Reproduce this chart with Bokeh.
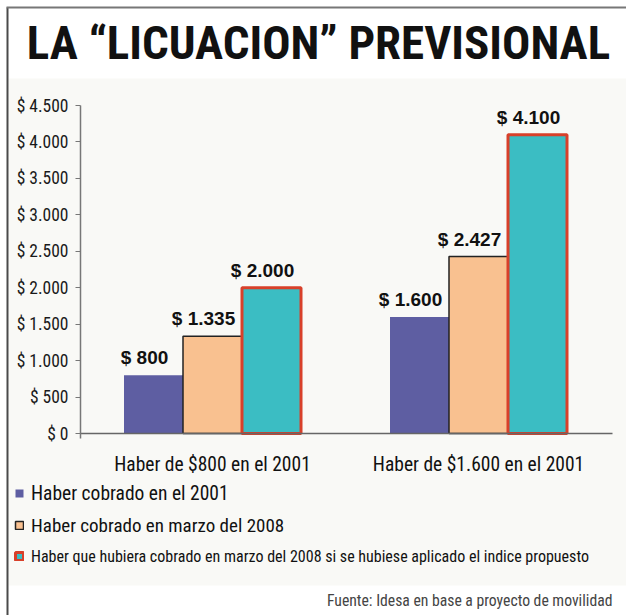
from bokeh.plotting import figure
from bokeh.models import (ColumnDataSource, FixedTicker, Label, Legend,
                          LegendItem, BoxAnnotation, Range1d)
from bokeh.transform import dodge
from bokeh.core.properties import value
from bokeh.embed import file_html
from bokeh.resources import INLINE

# ---- data ----
groups = ["Haber de $800 en el 2001", "Haber de $1.600 en el 2001"]
series_names = [
    "Haber cobrado en el 2001",
    "Haber cobrado en marzo del 2008",
    "Haber que hubiera cobrado en marzo del 2008 si se hubiese aplicado el indice propuesto",
]
cobrado_2001 = [800, 1600]
cobrado_2008 = [1335, 2427]
hubiera_2008 = [2000, 4100]
value_labels_2001 = ["$ 800", "$ 1.600"]
value_labels_2008 = ["$ 1.335", "$ 2.427"]
value_labels_hub = ["$ 2.000", "$ 4.100"]
y_ticks = [0, 500, 1000, 1500, 2000, 2500, 3000, 3500, 4000, 4500]
y_tick_labels = ["$ 0", "$ 500", "$ 1.000", "$ 1.500", "$ 2.000", "$ 2.500",
                 "$ 3.000", "$ 3.500", "$ 4.000", "$ 4.500"]
title_text = "LA \u201cLICUACION\u201d PREVISIONAL"
source_text = "Fuente: Idesa en base a proyecto de movilidad"

group_pos = list(range(len(groups)))
src = ColumnDataSource(dict(
    g=group_pos, a=cobrado_2001, b=cobrado_2008, c=hubiera_2008,
    la=value_labels_2001, lb=value_labels_2008, lc=value_labels_hub,
))

NARROW = "'Roboto Condensed', 'Liberation Sans Narrow', 'Liberation Sans'"
W, H = 626, 615

# ---- layout (pixel targets -> ranges) ----
PX_X0, PX_PER_GROUP = 212.0, 266.0      # pixel of first group, pixels per group
PX_Y0, PX_YTOP, Y_TOP = 433.0, 105.0, 4500.0
ppy = (PX_Y0 - PX_YTOP) / Y_TOP
x_start = -PX_X0 / PX_PER_GROUP
x_end = (W - PX_X0) / PX_PER_GROUP
y_start = -(H - PX_Y0) / ppy
y_end = Y_TOP + PX_YTOP / ppy
axis_x = (80 - PX_X0) / PX_PER_GROUP
axis_right = (612 - PX_X0) / PX_PER_GROUP

p = figure(width=W, height=H, x_range=Range1d(x_start, x_end),
           y_range=Range1d(y_start, y_end), output_backend="svg",
           toolbar_location=None, min_border=0, title=None)
p.outline_line_color = None
p.background_fill_color = "white"
p.border_fill_color = "white"

# light panel behind the chart
p.add_layout(BoxAnnotation(left=8, right=W, top=H - 78, bottom=H - 585,
                           left_units="screen", right_units="screen",
                           top_units="screen", bottom_units="screen",
                           fill_color="#f9f9f6", fill_alpha=1, line_color=None,
                           level="underlay"))
# frame border lines (left and top)
p.add_layout(BoxAnnotation(left=6, right=8, top=H - 7, bottom=0,
                           left_units="screen", right_units="screen",
                           top_units="screen", bottom_units="screen",
                           fill_color="#4a4a4a", fill_alpha=1, line_color=None))
p.add_layout(BoxAnnotation(left=6, right=W, top=H - 6, bottom=H - 8,
                           left_units="screen", right_units="screen",
                           top_units="screen", bottom_units="screen",
                           fill_color="#777777", fill_alpha=1, line_color=None))

bw = 59.0 / PX_PER_GROUP
colors = ["#5e5ea2", "#f9c190", "#3bbdc3"]
r1 = p.vbar(x=dodge("g", -bw), top="a", width=bw, source=src,
            fill_color=colors[0], line_color=None)
r2 = p.vbar(x=dodge("g", 0), top="b", width=bw, source=src,
            fill_color=colors[1], line_color="#222222", line_width=1.5)
r3 = p.vbar(x=dodge("g", bw), top="c", width=bw, source=src,
            fill_color=colors[2], line_color="#d8402a", line_width=3)

for col, lab, off in [("a", "la", -bw), ("b", "lb", 0), ("c", "lc", bw)]:
    p.text(x=dodge("g", off), y=col, text=lab, source=src,
           text_font=value("Liberation Sans"), text_font_style="bold",
           text_font_size="19px", text_color="#111111", text_align="center",
           text_baseline="bottom", y_offset=-7, x_offset=-9)

# axes (fixed inside the frame)
p.yaxis.fixed_location = axis_x
p.yaxis.bounds = (-70, Y_TOP)
p.yaxis.ticker = FixedTicker(ticks=y_ticks)
p.yaxis.major_label_overrides = {t: l for t, l in zip(y_ticks, y_tick_labels)}
p.yaxis.major_label_text_font = NARROW
p.yaxis.major_label_text_font_size = "17.5px"
p.yaxis.major_label_text_color = "#1a1a1a"
p.yaxis.axis_line_color = "#777777"
p.yaxis.axis_line_width = 1.5
p.yaxis.major_tick_line_color = "#777777"
p.yaxis.major_tick_out = 5
p.yaxis.major_tick_in = 0
p.yaxis.minor_tick_line_color = None
p.yaxis.major_label_standoff = 7

p.xaxis.fixed_location = 0
p.xaxis.bounds = (axis_x, axis_right)
p.xaxis.ticker = FixedTicker(ticks=group_pos)
p.xaxis.major_label_overrides = {i: g for i, g in zip(group_pos, groups)}
p.xaxis.axis_line_color = "#666666"
p.xaxis.axis_line_width = 1.5
p.xaxis.major_tick_line_color = None
p.xaxis.minor_tick_line_color = None
p.xaxis.major_tick_out = 0
p.xaxis.major_tick_in = 0
p.xaxis.major_label_text_font = NARROW
p.xaxis.major_label_text_font_size = "19.5px"
p.xaxis.major_label_text_color = "#111111"
p.xaxis.major_label_standoff = 19

p.xgrid.grid_line_color = None
p.ygrid.grid_line_color = "#c9c9c9"
p.ygrid.grid_line_dash = "4 4"
p.ygrid.grid_line_width = 1
p.ygrid.bounds = (500, Y_TOP)
p.ygrid.cross_bounds = (axis_x, axis_right)

# title
p.add_layout(Label(x=318, y=H - 42, x_units="screen", y_units="screen",
                   text=title_text, text_align="center", text_baseline="middle",
                   text_font=NARROW, text_font_style="bold",
                   text_font_size="47px", text_color="#111111"))

# legend: one block per series so each line can match the reference width
legend_specs = [(r1, series_names[0], 493, "19.5px"),
                (r2, series_names[1], 525, "19px"),
                (r3, series_names[2], 556, "16px")]
for rend, name, cy, fs in legend_specs:
    lg = Legend(items=[LegendItem(label=name, renderers=[rend])],
                location=(14, H - cy - 12), orientation="vertical",
                glyph_width=10, glyph_height=10, label_height=24,
                spacing=0, padding=0, margin=0, label_standoff=7,
                label_text_font=NARROW, label_text_font_size=fs,
                label_text_color="#111111", border_line_color=None,
                background_fill_alpha=0)
    p.add_layout(lg, "center")

# source note
p.add_layout(Label(x=612, y=H - 600, x_units="screen", y_units="screen",
                   text=source_text, text_align="right", text_baseline="middle",
                   text_font=NARROW, text_font_size="15.7px", text_color="#444444"))

open("out.html", "w").write(file_html(p, INLINE))
